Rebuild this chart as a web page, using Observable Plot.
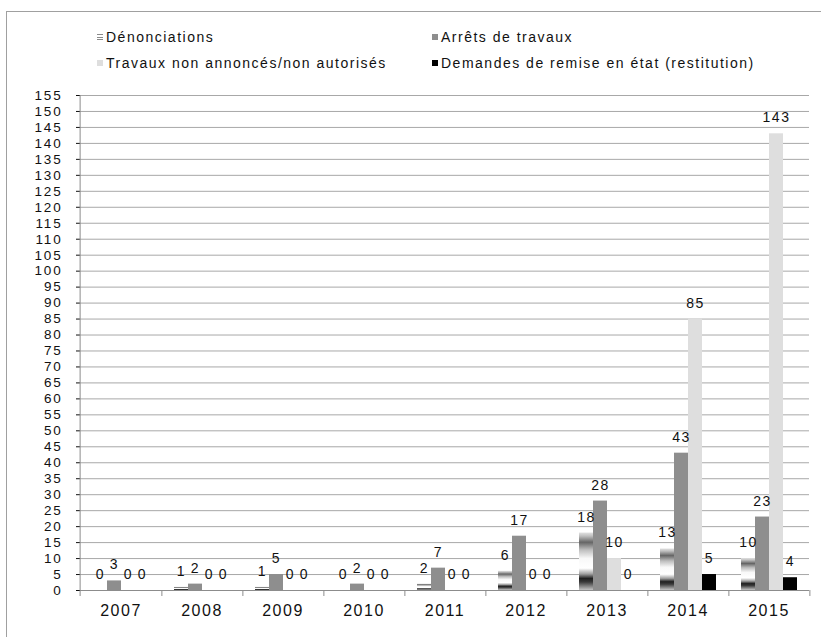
<!DOCTYPE html>
<html><head><meta charset="utf-8">
<script src="https://cdn.jsdelivr.net/npm/d3@7"></script>
<script src="https://cdn.jsdelivr.net/npm/@observablehq/plot@0.6"></script>
<style>
html,body{margin:0;padding:0;background:#fff;}
body{width:821px;height:637px;overflow:hidden;position:relative;font-family:"Liberation Sans",Arial,sans-serif;}
#frame{position:absolute;left:6px;top:11px;width:900px;height:700px;border:1.5px solid #a0a0a0;box-sizing:border-box;}
.leg{position:absolute;font-size:14px;letter-spacing:1.5px;color:#111;line-height:16px;white-space:nowrap;}
.sw{position:absolute;width:6px;height:6px;}
#chart{position:absolute;left:0;top:80px;}
#chart svg text{letter-spacing:1.5px;}
#chart g[aria-label="y-axis tick label"] text, #chart g[aria-label="y-axis"] text{letter-spacing:1.8px;font-size:13.5px;}
#chart g[aria-label="y-axis tick"]{stroke:#8c8c8c;}
#chart g[aria-label="y-axis"] line{stroke:#8c8c8c;}
</style></head><body>
<div id="frame"></div>
<div id="legend"></div>
<div id="chart"></div>
<script>
// ---- data ----
const years = ["2007","2008","2009","2010","2011","2012","2013","2014","2015"];
const seriesNames = ["Dénonciations","Arrêts de travaux","Travaux non annoncés/non autorisés","Demandes de remise en état (restitution)"];
const denonciations      = [0, 1, 1, 0, 2, 6, 18, 13, 10];
const arretsTravaux      = [3, 2, 5, 2, 7, 17, 28, 43, 23];
const travauxNonAnnonces = [0, 0, 0, 0, 0, 0, 10, 85, 143];
const demandesRemise     = [0, 0, 0, 0, 0, 0, 0, 5, 4];
const yTicks = d3.range(0, 156, 5);

// ---- styles ----
const seriesFills = ["url(#chrome)", "#8e8e8e", "#dedede", "#000000"];
const legendSwatches = [
  "linear-gradient(to bottom,#8a8a8a 0 1px,#fff 1px 2.5px,#8a8a8a 2.5px 3.5px,#fff 3.5px 5px,#8a8a8a 5px 6px)",
  "#8e8e8e", "#dedede", "#000000"];
const legendPos = [{x:97,y:34},{x:432,y:34},{x:97,y:60},{x:432,y:60}];
const chromeStops = [[0,"#e2e2e2"],[0.06,"#c0c0c0"],[0.17,"#666666"],[0.3,"#bdbdbd"],[0.45,"#f8f8f8"],[0.62,"#ffffff"],[0.72,"#a0a0a0"],[0.8,"#202020"],[0.86,"#3a3a3a"],[1,"#c4c4c4"]];

const values = [denonciations, arretsTravaux, travauxNonAnnonces, demandesRemise];
const data = years.flatMap((year, i) => seriesNames.map((series, k) => ({year, series, value: values[k][i]})));

// legend
const legend = document.getElementById("legend");
seriesNames.forEach((name, k) => {
  const sw = document.createElement("div");
  sw.className = "sw";
  sw.style.left = legendPos[k].x + "px";
  sw.style.top = legendPos[k].y + "px";
  sw.style.background = legendSwatches[k];
  legend.appendChild(sw);
  const t = document.createElement("div");
  t.className = "leg";
  t.style.left = (legendPos[k].x + 9) + "px";
  t.style.top = (legendPos[k].y - 5) + "px";
  t.textContent = name;
  legend.appendChild(t);
});

const W = 821, H = 557, mL = 76, mR = 9, mT = 15, mB = 47;
const step = (W - mL - mR) / years.length;
const frameH = H - mT - mB;
const axisColor = "#8c8c8c", gridColor = "#a8a8a8", ink = "#111";

const plot = Plot.plot({
  width: W, height: H,
  marginLeft: mL, marginRight: mR, marginTop: mT, marginBottom: mB,
  style: {fontSize: "13px", fontFamily: "Liberation Sans, Arial, sans-serif", color: ink, background: "transparent"},
  fx: {domain: years, padding: 0, axis: null, label: null},
  x: {domain: seriesNames, paddingInner: 0, paddingOuter: 0.84, axis: null, label: null},
  y: {domain: [0, 155], ticks: yTicks, tickSize: 4, tickPadding: 14, label: null},
  color: {domain: seriesNames, range: seriesFills},
  marks: [
    Plot.ruleY(yTicks, {stroke: gridColor, strokeWidth: 1}),
    Plot.barY(data, {fx: "year", x: "series", y: "value", fill: "series"}),
    Plot.ruleY([0], {stroke: axisColor}),
    Plot.ruleX(years, {fx: d => d, x: null, dx: step / 2, insetTop: frameH, insetBottom: -6, stroke: axisColor}),
    Plot.ruleX(years.slice(0, 1), {fx: d => d, x: null, dx: -step / 2, insetBottom: -6, stroke: axisColor}),
    Plot.text(data, {fx: "year", x: "series", y: "value", text: d => String(d.value), dy: -16, fontSize: 14, fill: ink}),
    Plot.text(years, {fx: d => d, text: d => d, frameAnchor: "bottom", dy: 25, fontSize: 16, fill: ink})
  ]
});

const svg = d3.select(plot);
const grad = svg.insert("defs", ":first-child").append("linearGradient")
  .attr("id", "chrome").attr("x1", 0).attr("y1", 0).attr("x2", 0).attr("y2", 1);
chromeStops.forEach(([o, c]) => grad.append("stop").attr("offset", o).attr("stop-color", c));

document.getElementById("chart").appendChild(plot);
</script>
</body></html>
